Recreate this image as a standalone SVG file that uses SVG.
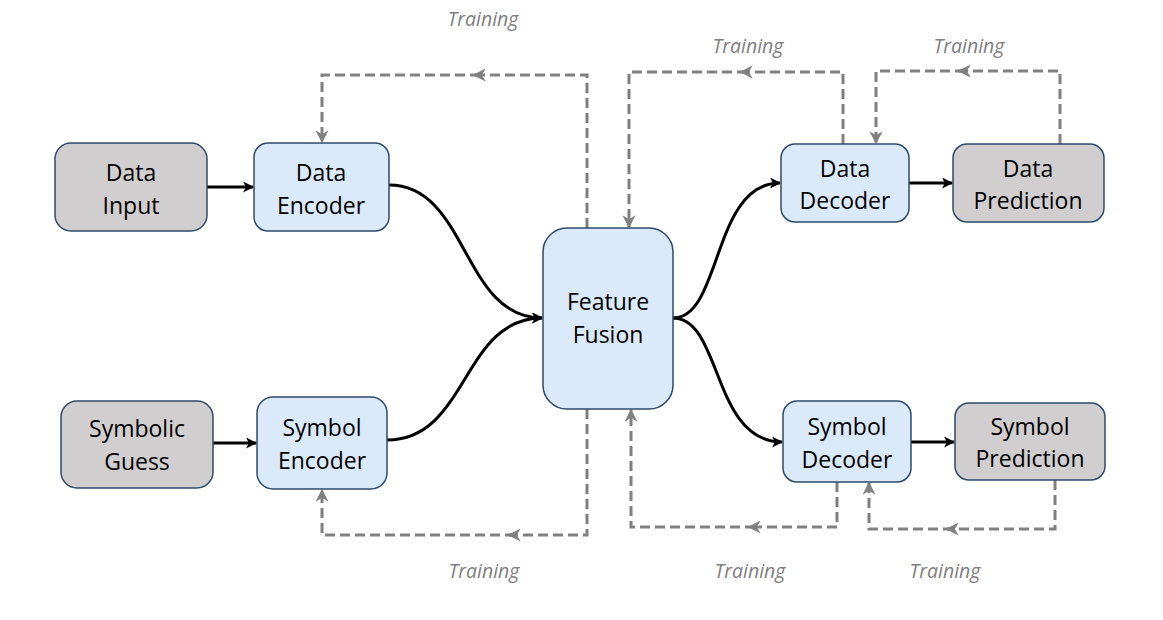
<svg xmlns="http://www.w3.org/2000/svg" width="1163" height="620" viewBox="0 0 1163 620">
<style>
.gray rect{fill:#d0cece;stroke:#2f4a6a;stroke-width:1.5}
.blue rect{fill:#dbeafb;stroke:#2f4a6a;stroke-width:1.5}
.lbl{font-family:"Open Sans","Noto Sans",sans-serif;font-size:23px;fill:#000;text-anchor:middle}
.tr{font-family:"Open Sans","Noto Sans",sans-serif;font-size:19.5px;font-style:italic;fill:#808080;text-anchor:middle}
.solid{fill:none;stroke:#000;stroke-width:3}
.dash{fill:none;stroke:#808080;stroke-width:3;stroke-dasharray:10,5}
</style>
<defs>
<marker id="ab" viewBox="0 0 10 10" refX="9" refY="5" markerWidth="11" markerHeight="11" markerUnits="userSpaceOnUse" orient="auto">
<path d="M0,0 L10,5 L0,10 L2.5,5 z" fill="#000"/>
</marker>
<marker id="ag" viewBox="0 0 10 10" refX="9" refY="5" markerWidth="13" markerHeight="13" markerUnits="userSpaceOnUse" orient="auto">
<path d="M0,0 L10,5 L0,10 L3,5 z" fill="#808080"/>
</marker>
</defs>
<rect width="1163" height="620" fill="#fff"/>
<g id="connectors">
<path class="solid" d="M207,187 L253,187" marker-end="url(#ab)"/>
<path class="solid" d="M213,443 L256,443" marker-end="url(#ab)"/>
<path class="solid" d="M389,185 C468,185 462,318 542,318" marker-end="url(#ab)"/>
<path class="solid" d="M387,440 C468,440 462,318 542,318" marker-end="url(#ab)"/>
<path class="solid" d="M673,318 C722,318 712,183 780,183" marker-end="url(#ab)"/>
<path class="solid" d="M673,318 C722,318 712,442 782,442" marker-end="url(#ab)"/>
<path class="solid" d="M909,183 L952,183" marker-end="url(#ab)"/>
<path class="solid" d="M911,442 L954,442" marker-end="url(#ab)"/>
<path class="dash" d="M587,228 L587,75 L474,75" marker-end="url(#ag)"/>
<path class="dash" d="M480,75 L322,75 L322,142" marker-end="url(#ag)"/>
<path class="dash" d="M587,409 L587,535 L509,535" marker-end="url(#ag)"/>
<path class="dash" d="M515,535 L322,535 L322,490" marker-end="url(#ag)"/>
<path class="dash" d="M843,144 L843,72 L741,72" marker-end="url(#ag)"/>
<path class="dash" d="M747,72 L629,72 L629,227" marker-end="url(#ag)"/>
<path class="dash" d="M1060,144 L1060,71 L959,71" marker-end="url(#ag)"/>
<path class="dash" d="M965,71 L876,71 L876,143" marker-end="url(#ag)"/>
<path class="dash" d="M837,482 L837,527 L749,527" marker-end="url(#ag)"/>
<path class="dash" d="M755,527 L631,527 L631,410" marker-end="url(#ag)"/>
<path class="dash" d="M1055,480 L1055,529 L947,529" marker-end="url(#ag)"/>
<path class="dash" d="M953,529 L869,529 L869,483" marker-end="url(#ag)"/>
</g>
<g id="labels">
<text class="tr" x="483" y="26">Training</text>
<text class="tr" x="748" y="53">Training</text>
<text class="tr" x="969" y="53">Training</text>
<text class="tr" x="484" y="578">Training</text>
<text class="tr" x="750" y="578">Training</text>
<text class="tr" x="945" y="578">Training</text>
</g>
<g id="data-input" class="gray">
<rect x="55" y="143" width="152" height="88" rx="16"/>
<text class="lbl" x="131" y="181">Data</text>
<text class="lbl" x="131" y="214">Input</text>
</g>
<g id="data-encoder" class="blue">
<rect x="254" y="143" width="135" height="88" rx="14"/>
<text class="lbl" x="321" y="181">Data</text>
<text class="lbl" x="321" y="214">Encoder</text>
</g>
<g id="symbolic-guess" class="gray">
<rect x="61" y="401" width="152" height="87" rx="16"/>
<text class="lbl" x="137" y="437">Symbolic</text>
<text class="lbl" x="137" y="470">Guess</text>
</g>
<g id="symbol-encoder" class="blue">
<rect x="257" y="397" width="130" height="92" rx="16"/>
<text class="lbl" x="322" y="436">Symbol</text>
<text class="lbl" x="322" y="469">Encoder</text>
</g>
<g id="feature-fusion" class="blue">
<rect x="543" y="228" width="130" height="181" rx="24"/>
<text class="lbl" x="608" y="310">Feature</text>
<text class="lbl" x="608" y="343">Fusion</text>
</g>
<g id="data-decoder" class="blue">
<rect x="781" y="144" width="128" height="78" rx="14"/>
<text class="lbl" x="845" y="177">Data</text>
<text class="lbl" x="845" y="209">Decoder</text>
</g>
<g id="data-prediction" class="gray">
<rect x="953" y="144" width="151" height="78" rx="14"/>
<text class="lbl" x="1028" y="177">Data</text>
<text class="lbl" x="1028" y="209">Prediction</text>
</g>
<g id="symbol-decoder" class="blue">
<rect x="783" y="401" width="128" height="81" rx="14"/>
<text class="lbl" x="847" y="435">Symbol</text>
<text class="lbl" x="847" y="468">Decoder</text>
</g>
<g id="symbol-prediction" class="gray">
<rect x="955" y="403" width="150" height="77" rx="14"/>
<text class="lbl" x="1030" y="435">Symbol</text>
<text class="lbl" x="1030" y="467">Prediction</text>
</g>
</svg>
